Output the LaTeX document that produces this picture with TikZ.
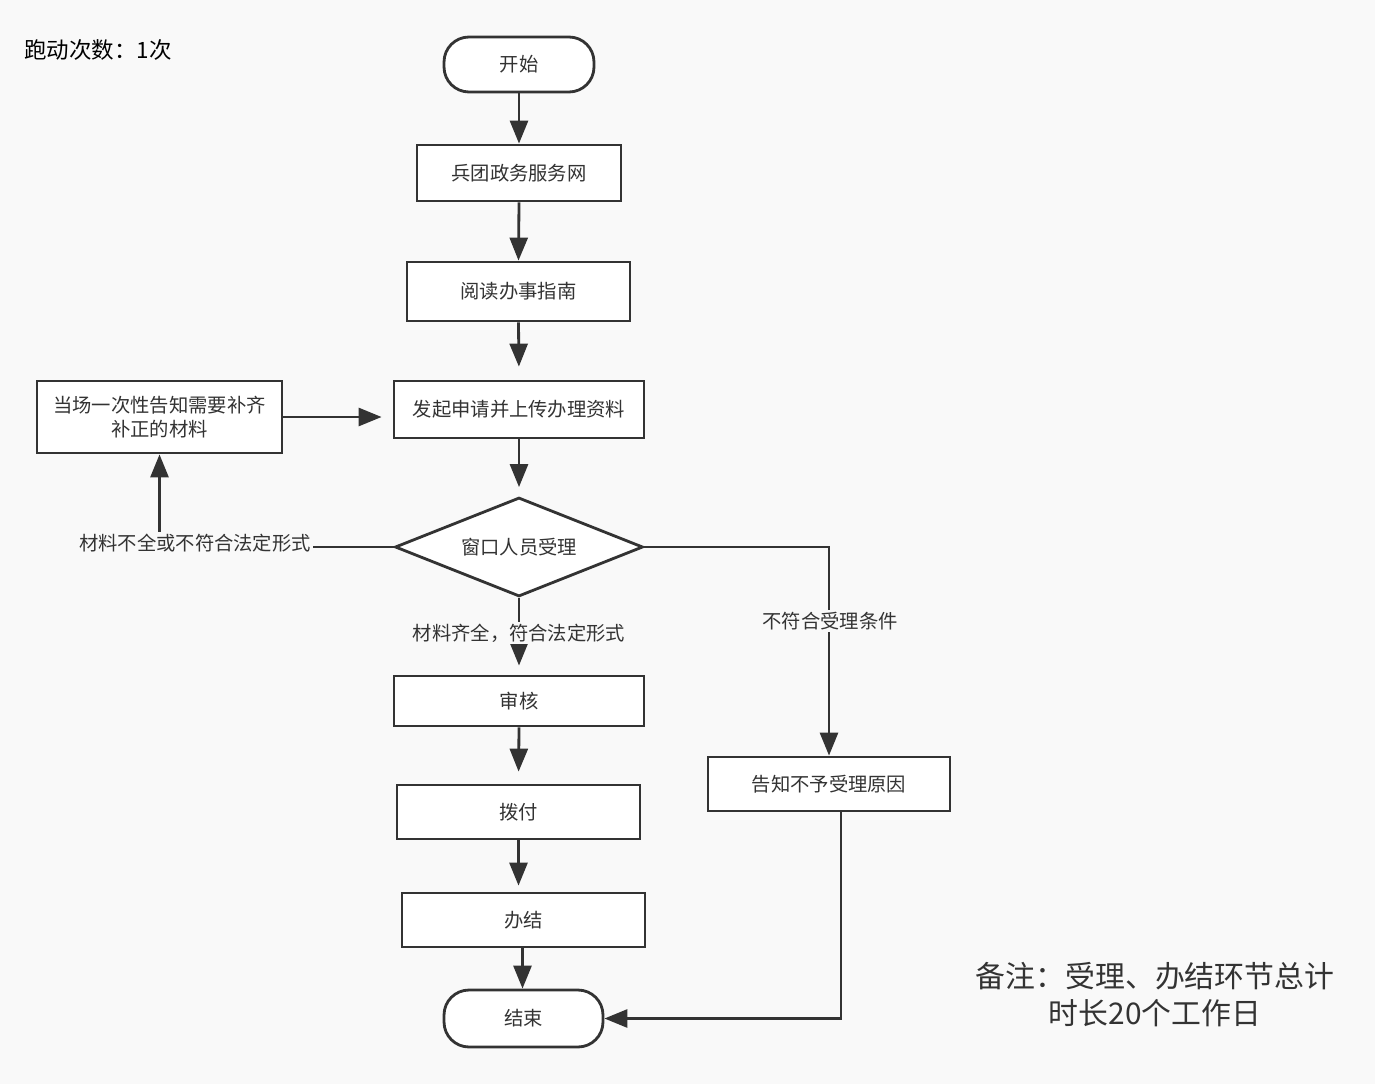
\documentclass[tikz,border=0pt]{standalone}
\usepackage{fontspec}
\setmainfont{Noto Sans CJK SC}
\usetikzlibrary{arrows.meta,shapes.geometric}
\definecolor{bg}{HTML}{F9F9F9}
\definecolor{ink}{HTML}{333333}
\begin{document}
\begin{tikzpicture}[x=0.02cm,y=-0.02cm,
  box/.style={draw=ink,line width=1.6pt,fill=white,text=ink,font=\fontsize{11}{13.6}\selectfont,align=center,inner sep=0pt},
  term/.style={box,rounded corners=0.5cm},
  dia/.style={box,diamond,aspect=2.5},
  conn/.style={draw=ink,line width=1.6pt,-{Triangle[length=0.46cm,width=0.36cm]}},
  lab/.style={fill=bg,text=ink,font=\fontsize{11}{13}\selectfont,inner sep=1pt}]
\fill[bg] (0,0) rectangle (1375,1084);
\node[anchor=west,font=\fontsize{12.8}{15}\selectfont,text=black] (title) at (18,50) {跑动次数：1次};
\node[term,minimum width=3.0cm,minimum height=1.1cm] (start) at (519,64.5) {开始};
\node[box,minimum width=4.08cm,minimum height=1.12cm] (web) at (519,173) {兵团政务服务网};
\node[box,minimum width=4.46cm,minimum height=1.18cm] (read) at (518.5,291.5) {阅读办事指南};
\node[box,minimum width=5.0cm,minimum height=1.14cm] (apply) at (519,409.5) {发起申请并上传办理资料};
\node[box,minimum width=4.9cm,minimum height=1.44cm] (notice) at (159.5,417) {当场一次性告知需要补齐\\补正的材料};
\node[dia,minimum width=4.96cm,minimum height=1.98cm] (dec) at (519,547) {窗口人员受理};
\node[box,minimum width=5.0cm,minimum height=1.0cm] (audit) at (519,701) {审核};
\node[box,minimum width=4.86cm,minimum height=1.08cm] (pay) at (518.5,812) {拨付};
\node[box,minimum width=4.86cm,minimum height=1.08cm] (done) at (523.5,920) {办结};
\node[term,minimum width=3.18cm,minimum height=1.14cm] (end) at (523.5,1018.5) {结束};
\node[box,minimum width=4.84cm,minimum height=1.08cm] (reject) at (829,784) {告知不予受理原因};
\node[text=ink,align=center,font=\fontsize{17}{21}\selectfont] (note) at (1155,995) {备注：受理、办结环节总计\\时长20个工作日};

\draw[conn] (start.south) -- (web.north);
\draw[conn] (web.south) -- (read.north);
\draw[conn,shorten >=0.26cm] (read.south) -- (apply.north);
\draw[conn,shorten >=0.18cm] (apply.south) -- (dec.north);
\draw[conn,shorten >=0.18cm] (dec.south) -- (audit.north);
\draw[conn,shorten >=0.24cm] (audit.south) -- (pay.north);
\draw[conn,shorten >=0.12cm] (pay.south) -- (pay.south |- done.north);
\draw[conn] ([xshift=-0.02cm]done.south) -- ([xshift=-0.02cm]end.north);
\draw[conn] (dec.east) -| (reject.north);
\draw[conn] ([xshift=0.24cm]reject.south) |- (end.east);
\draw[conn] (dec.west) -| (notice.south);
\draw[conn,shorten >=0.22cm] (notice.east) -- (notice.east -| apply.west);

\node[lab] (l1) at (195,543) {材料不全或不符合法定形式};
\node[lab] (l2) at (519,633) {材料齐全，符合法定形式};
\node[lab] (l3) at (830,621) {不符合受理条件};
\end{tikzpicture}
\end{document}
